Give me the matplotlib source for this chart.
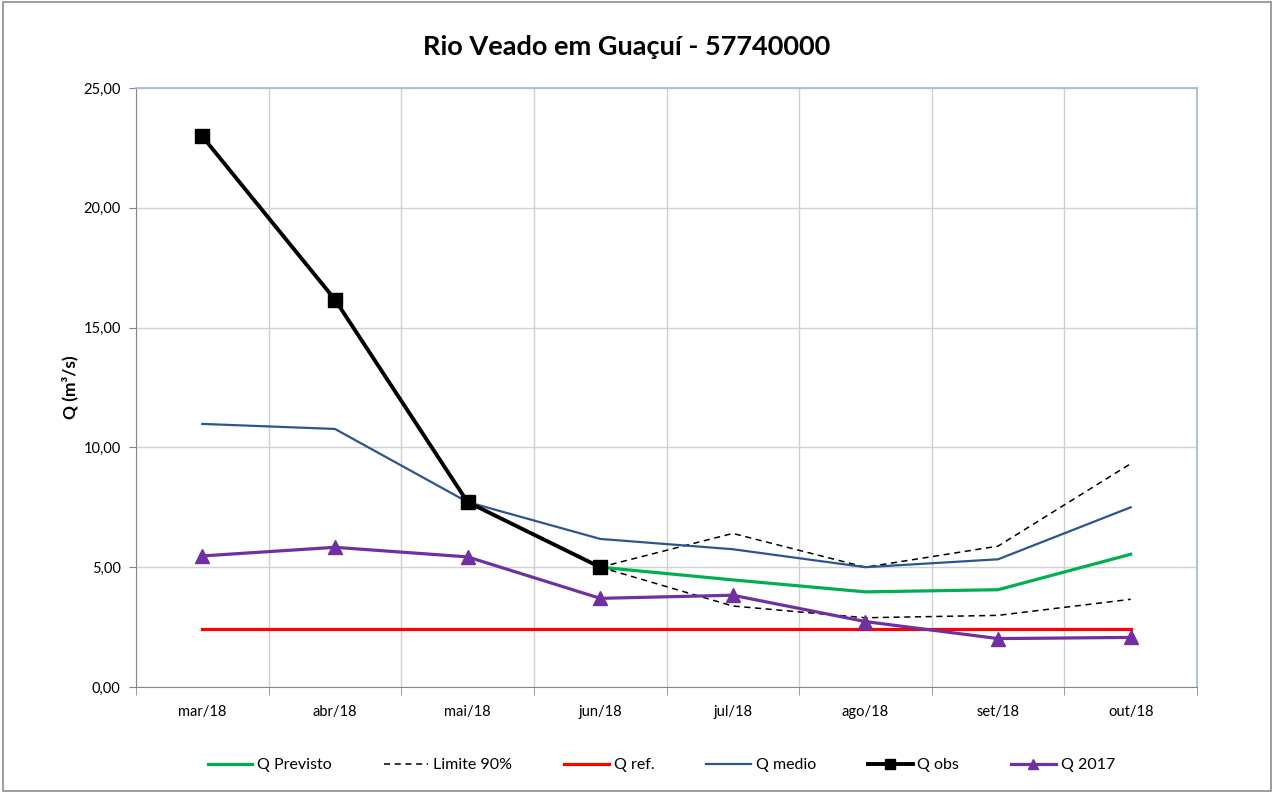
import numpy as np
import matplotlib.pyplot as plt
from matplotlib.patches import Rectangle

plt.rcParams['font.family'] = ['Lato', 'DejaVu Sans']

# Dados
meses = ['mar/18', 'abr/18', 'mai/18', 'jun/18', 'jul/18', 'ago/18', 'set/18', 'out/18']
nan = np.nan
q_previsto = [nan, nan, nan, 5.00, 4.47, 3.97, 4.06, 5.54]
lim_sup = [nan, nan, nan, 5.00, 6.41, 5.00, 5.88, 9.32]
lim_inf = [nan, nan, nan, 5.00, 3.38, 2.89, 2.99, 3.66]
q_ref = [2.40] * 8
q_medio = [10.98, 10.77, 7.72, 6.18, 5.75, 5.00, 5.33, 7.50]
q_obs = [22.98, 16.17, 7.72, 5.00, nan, nan, nan, nan]
q_2017 = [5.47, 5.83, 5.43, 3.70, 3.83, 2.73, 2.02, 2.07]

x = np.arange(len(meses))

fig = plt.figure(figsize=(12.74, 7.93), dpi=100)
ax = fig.add_axes([136/1274, 106/793, 1061/1274, 599/793])

ax.plot(x, q_previsto, color='#00b050', lw=2.3, label='Q Previsto')
ax.plot(x, lim_sup, color='black', lw=1.1, ls=(0, (4, 3)), label='Limite 90%')
ax.plot(x, lim_inf, color='black', lw=1.1, ls=(0, (4, 3)))
ax.plot(x, q_ref, color='#ff0000', lw=2.3, label='Q ref.')
ax.plot(x, q_medio, color='#2c5590', lw=1.6, label='Q medio')
ax.plot(x, q_obs, color='black', lw=2.8, marker='s', ms=9.5, label='Q obs')
ax.plot(x, q_2017, color='#7030a0', lw=2.3, marker='^', ms=10, label='Q 2017')

ax.set_xlim(-0.5, len(meses) - 0.5)
ax.set_ylim(0, 25)
ax.set_yticks(np.arange(0, 25.1, 5))
ax.set_yticklabels([f'{v:.2f}'.replace('.', ',') for v in np.arange(0, 25.1, 5)])
ax.set_xticks(x)
ax.set_xticklabels(meses)
ax.set_xticks(np.arange(-0.5, len(meses)), minor=True)
ax.tick_params(axis='x', which='major', length=0, labelsize=10.5, pad=13)
ax.tick_params(axis='x', which='minor', length=6, color='#888888', direction='out')
ax.tick_params(axis='y', length=5, color='#888888', labelsize=10.5, pad=6)

ax.grid(True, axis='y', color='#d0d0d0', lw=1)
ax.grid(True, axis='x', which='minor', color='#d0d0d0', lw=1)
ax.set_axisbelow(True)

for s in ['left', 'bottom']:
    ax.spines[s].set_color('#888888')
for s in ['top', 'right']:
    ax.spines[s].set_color('#a8bcd8')
    ax.spines[s].set_linewidth(1.3)

ax.set_ylabel('Q (m³/s)', fontsize=12.5, fontweight='bold', labelpad=4)
fig.text(0.492, 1 - 47/793, 'Rio Veado em Guaçuí - 57740000', ha='center', va='center',
         fontsize=19.5, fontweight='bold')

fig.legend(loc='center', bbox_to_anchor=(0.519, 1 - 765/793), ncol=6, frameon=False,
           fontsize=11.5, handlelength=2.8, handletextpad=0.3, columnspacing=3.25,
           markerscale=0.7)

fig.patches.append(Rectangle((0.002, 0.002), 0.996, 0.996, transform=fig.transFigure,
                             fill=False, edgecolor='#8c8c8c', lw=1.2))

fig.savefig('out.png', dpi=100)
